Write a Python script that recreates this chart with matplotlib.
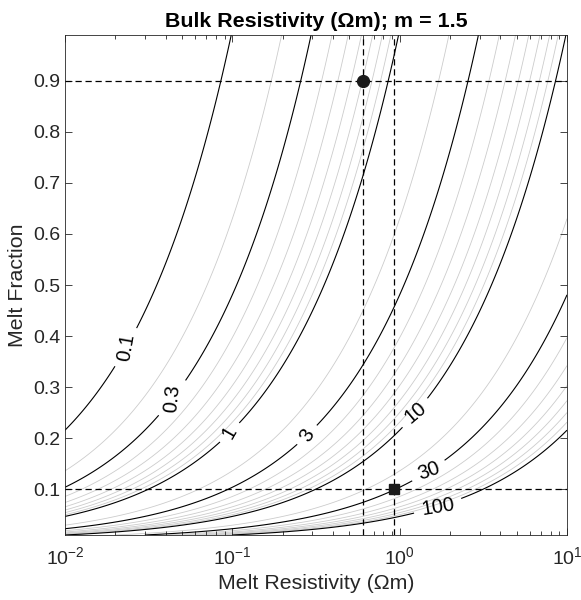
import matplotlib
matplotlib.use('Agg')
import matplotlib.pyplot as plt
import numpy as np

plt.rcParams['font.family'] = ['Liberation Sans', 'DejaVu Sans']
plt.rcParams['mathtext.fontset'] = 'custom'
plt.rcParams['mathtext.rm'] = 'Liberation Sans'
plt.rcParams['mathtext.it'] = 'Liberation Sans:italic'

# Archie exponent
m = 1.5

# contour levels of bulk resistivity (Ohm m)
black_levels = [0.1, 0.3, 1, 3, 10, 30, 100]
gray_levels = [0.2, 0.4, 0.5, 0.6, 0.7, 0.8, 0.9,
               2, 4, 5, 6, 7, 8, 9,
               20, 40, 50, 60, 70, 80, 90]

# where the labels sit (melt resistivity, melt fraction) and their angle
label_pos = [(0.024, 0.375), (0.044, 0.278), (0.097, 0.21), (0.28, 0.206),
             (1.24, 0.249), (1.5, 0.134), (1.7, 0.0635)]
label_rot = [80, 84, 60, 60, 40, 20, 9]

# the two example points
circle_pt = (0.6, 0.9)
square_pt = (0.93, 0.1)

xlim = [1e-2, 1e1]
ylim = [0.01, 0.99]

# grid for the contours
rho_melt = np.logspace(np.log10(xlim[0]), np.log10(xlim[1]), 600)
phi = np.linspace(ylim[0], ylim[1], 600)
RR, PP = np.meshgrid(rho_melt, phi)
bulk = RR / PP**m

txtcol = '#262626'

fig = plt.figure(figsize=(5.81, 6.0), dpi=100)
ax = fig.add_axes([65/581, 65/600, 502/581, 500/600])

ax.contour(RR, PP, bulk, levels=gray_levels, colors='#cccccc', linewidths=0.6, zorder=1)
cs = ax.contour(RR, PP, bulk, levels=black_levels, colors='k', linewidths=0.8, zorder=2)
ax.set_xscale('log')
ax.set_xlim(xlim)
ax.set_ylim(ylim)
lbls = ax.clabel(cs, black_levels, inline=True, fmt='%g', fontsize=14.5,
                 manual=label_pos, inline_spacing=8)
for t, r in zip(lbls, label_rot):
    t.set_transform_rotates_text(False)
    t.set_rotation(r)
    t.set_color('k')

dash = (0, (5, 3))
ax.axhline(circle_pt[1], color='k', lw=0.9, ls=dash, zorder=3)
ax.axhline(square_pt[1], color='k', lw=0.9, ls=dash, zorder=3)
ax.axvline(circle_pt[0], color='k', lw=0.9, ls=dash, zorder=3)
ax.axvline(square_pt[0], color='k', lw=0.9, ls=dash, zorder=3)

ax.plot(circle_pt[0], circle_pt[1], 'o', color='#1a1a1a', ms=8.5, zorder=4)
ax.plot(square_pt[0], square_pt[1], 's', color='#1a1a1a', ms=7, zorder=4)

ax.set_yticks([0.1, 0.2, 0.3, 0.4, 0.5, 0.6, 0.7, 0.8, 0.9])
ax.tick_params(which='both', direction='in', top=True, right=True, colors=txtcol,
               labelsize=14, width=0.6)
ax.tick_params(which='major', length=5)
ax.tick_params(which='minor', length=3)
ax.tick_params(axis='x', pad=8)
for s in ax.spines.values():
    s.set_color(txtcol)
    s.set_linewidth(0.6)

ax.set_xlabel('Melt Resistivity (Ωm)', fontsize=15.4, color=txtcol)
ax.set_ylabel('Melt Fraction', fontsize=15.4, color=txtcol)
ax.set_title('Bulk Resistivity (Ωm); m = 1.5', fontsize=15.4, fontweight='bold', pad=6)

plt.savefig('out.png', dpi=100)
